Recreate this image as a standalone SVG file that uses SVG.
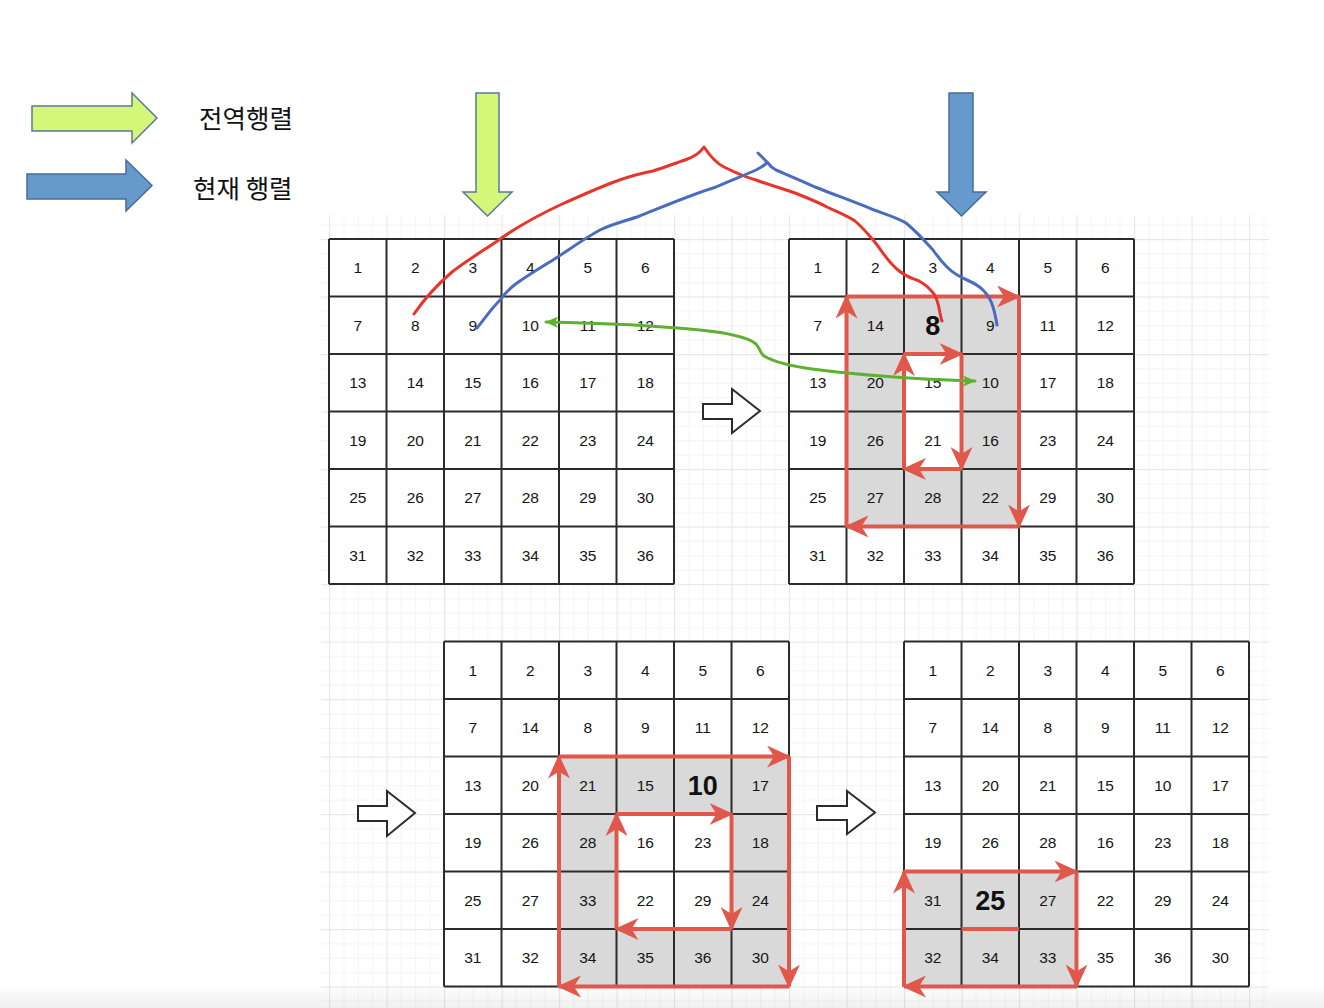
<svg xmlns="http://www.w3.org/2000/svg" xmlns:xlink="http://www.w3.org/1999/xlink" width="1324" height="1008" viewBox="0 0 1324 1008">
<style>
.n{font-family:"Liberation Sans",Arial,sans-serif;font-size:15.5px;text-anchor:middle;fill:#151515}
.b{font-family:"Liberation Sans",Arial,sans-serif;font-size:27px;font-weight:bold;text-anchor:middle;fill:#111}
.gl{fill:none;stroke:#2b2b2b;stroke-width:2}
.cell{fill:#ffffff}
.sh{fill:#d9d9d9}
.red{fill:none;stroke:#e0584c;stroke-width:4;marker-end:url(#ra)}
.hollow{fill:#ffffff;stroke:#2b2b2b;stroke-width:2;stroke-linejoin:miter}
.leg{font-family:"Noto Sans CJK KR","Noto Sans",sans-serif;font-size:25.5px;fill:#111;dominant-baseline:central}
.curve{fill:none;stroke-width:3;stroke-linecap:round;stroke-linejoin:round}
</style>
<defs>
<pattern id="bg" x="329" y="239" width="57.5" height="57.5" patternUnits="userSpaceOnUse">
<rect x="14.375" y="0" width="1" height="57.5" fill="#f3f3f3"/>
<rect x="28.75" y="0" width="1" height="57.5" fill="#f3f3f3"/>
<rect x="43.125" y="0" width="1" height="57.5" fill="#f3f3f3"/>
<rect x="0" y="14.375" width="57.5" height="1" fill="#f3f3f3"/>
<rect x="0" y="28.75" width="57.5" height="1" fill="#f3f3f3"/>
<rect x="0" y="43.125" width="57.5" height="1" fill="#f3f3f3"/>
<rect x="0" y="0" width="1.2" height="57.5" fill="#e8e8e8"/>
<rect x="0" y="0" width="57.5" height="1.2" fill="#e8e8e8"/>
</pattern>
<linearGradient id="fade" x1="0" y1="0" x2="0" y2="1">
<stop offset="0" stop-color="#000" stop-opacity="0"/>
<stop offset="1" stop-color="#000" stop-opacity="0.06"/>
</linearGradient>
<marker id="ra" markerUnits="userSpaceOnUse" markerWidth="24" markerHeight="22" viewBox="0 0 24 22" refX="22" refY="11" orient="auto">
<path d="M0,0 L24,11 L0,22 L7,11 z" fill="#e0584c"/>
</marker>
<marker id="ga" markerUnits="userSpaceOnUse" markerWidth="13" markerHeight="11" viewBox="0 0 13 11" refX="12" refY="5.5" orient="auto-start-reverse">
<path d="M0,0 L13,5.5 L0,11 L3,5.5 z" fill="#5db12f"/>
</marker>
<path id="lines" d="M0,0H345M0,57.5H345M0,115H345M0,172.5H345M0,230H345M0,287.5H345M0,345H345M0,0V345M57.5,0V345M115,0V345M172.5,0V345M230,0V345M287.5,0V345M345,0V345"/>
</defs>

<rect x="0" y="0" width="1324" height="1008" fill="#ffffff"/>
<rect x="321" y="215" width="948" height="793" fill="url(#bg)"/>
<rect x="0" y="984" width="1324" height="24" fill="url(#fade)"/>

<g id="legend-global">
<polygon points="32,106 132,106 132,93 157,118 132,143 132,131 32,131" fill="#d4f779" stroke="#58789f" stroke-width="1.5"/>
<text class="leg" x="199" y="116">전역행렬</text>
</g>
<g id="legend-current">
<polygon points="27,174 126,174 126,160 152,185.5 126,211 126,199 27,199" fill="#6699cc" stroke="#4a6c96" stroke-width="1.5"/>
<text class="leg" x="193" y="186">현재 행렬</text>
</g>
<g id="pointer-global">
<polygon points="476,93 499,93 499,192 512,192 487.5,216 463,192 476,192" fill="#d4f779" stroke="#58789f" stroke-width="1.5"/>
</g>
<g id="pointer-current">
<polygon points="949,93 973,93 973,192 986,192 961.5,216 937,192 949,192" fill="#6699cc" stroke="#4a6c96" stroke-width="1.5"/>
</g>

<g id="grid1" transform="translate(329,239)">
<rect class="cell" x="0" y="0" width="345" height="345"/>
<use xlink:href="#lines" class="gl"/>
<text class="n" x="28.75" y="34">1</text><text class="n" x="86.25" y="34">2</text><text class="n" x="143.75" y="34">3</text><text class="n" x="201.25" y="34">4</text><text class="n" x="258.75" y="34">5</text><text class="n" x="316.25" y="34">6</text>
<text class="n" x="28.75" y="91.5">7</text><text class="n" x="86.25" y="91.5">8</text><text class="n" x="143.75" y="91.5">9</text><text class="n" x="201.25" y="91.5">10</text><text class="n" x="258.75" y="91.5">11</text><text class="n" x="316.25" y="91.5">12</text>
<text class="n" x="28.75" y="149">13</text><text class="n" x="86.25" y="149">14</text><text class="n" x="143.75" y="149">15</text><text class="n" x="201.25" y="149">16</text><text class="n" x="258.75" y="149">17</text><text class="n" x="316.25" y="149">18</text>
<text class="n" x="28.75" y="206.5">19</text><text class="n" x="86.25" y="206.5">20</text><text class="n" x="143.75" y="206.5">21</text><text class="n" x="201.25" y="206.5">22</text><text class="n" x="258.75" y="206.5">23</text><text class="n" x="316.25" y="206.5">24</text>
<text class="n" x="28.75" y="264">25</text><text class="n" x="86.25" y="264">26</text><text class="n" x="143.75" y="264">27</text><text class="n" x="201.25" y="264">28</text><text class="n" x="258.75" y="264">29</text><text class="n" x="316.25" y="264">30</text>
<text class="n" x="28.75" y="321.5">31</text><text class="n" x="86.25" y="321.5">32</text><text class="n" x="143.75" y="321.5">33</text><text class="n" x="201.25" y="321.5">34</text><text class="n" x="258.75" y="321.5">35</text><text class="n" x="316.25" y="321.5">36</text>
</g>

<g id="grid2" transform="translate(789,239)">
<rect class="cell" x="0" y="0" width="345" height="345"/>
<rect class="sh" x="57.5" y="57.5" width="172.5" height="230"/>
<rect class="cell" x="115" y="115" width="57.5" height="115"/>
<use xlink:href="#lines" class="gl"/>
<text class="n" x="28.75" y="34">1</text><text class="n" x="86.25" y="34">2</text><text class="n" x="143.75" y="34">3</text><text class="n" x="201.25" y="34">4</text><text class="n" x="258.75" y="34">5</text><text class="n" x="316.25" y="34">6</text>
<text class="n" x="28.75" y="91.5">7</text><text class="n" x="86.25" y="91.5">14</text><text class="b" x="143.75" y="95.5">8</text><text class="n" x="201.25" y="91.5">9</text><text class="n" x="258.75" y="91.5">11</text><text class="n" x="316.25" y="91.5">12</text>
<text class="n" x="28.75" y="149">13</text><text class="n" x="86.25" y="149">20</text><text class="n" x="143.75" y="149">15</text><text class="n" x="201.25" y="149">10</text><text class="n" x="258.75" y="149">17</text><text class="n" x="316.25" y="149">18</text>
<text class="n" x="28.75" y="206.5">19</text><text class="n" x="86.25" y="206.5">26</text><text class="n" x="143.75" y="206.5">21</text><text class="n" x="201.25" y="206.5">16</text><text class="n" x="258.75" y="206.5">23</text><text class="n" x="316.25" y="206.5">24</text>
<text class="n" x="28.75" y="264">25</text><text class="n" x="86.25" y="264">27</text><text class="n" x="143.75" y="264">28</text><text class="n" x="201.25" y="264">22</text><text class="n" x="258.75" y="264">29</text><text class="n" x="316.25" y="264">30</text>
<text class="n" x="28.75" y="321.5">31</text><text class="n" x="86.25" y="321.5">32</text><text class="n" x="143.75" y="321.5">33</text><text class="n" x="201.25" y="321.5">34</text><text class="n" x="258.75" y="321.5">35</text><text class="n" x="316.25" y="321.5">36</text>
</g>

<g id="grid3" transform="translate(444,641.5)">
<rect class="cell" x="0" y="0" width="345" height="345"/>
<rect class="sh" x="115" y="115" width="230" height="230"/>
<rect class="cell" x="172.5" y="172.5" width="115" height="115"/>
<use xlink:href="#lines" class="gl"/>
<text class="n" x="28.75" y="34">1</text><text class="n" x="86.25" y="34">2</text><text class="n" x="143.75" y="34">3</text><text class="n" x="201.25" y="34">4</text><text class="n" x="258.75" y="34">5</text><text class="n" x="316.25" y="34">6</text>
<text class="n" x="28.75" y="91.5">7</text><text class="n" x="86.25" y="91.5">14</text><text class="n" x="143.75" y="91.5">8</text><text class="n" x="201.25" y="91.5">9</text><text class="n" x="258.75" y="91.5">11</text><text class="n" x="316.25" y="91.5">12</text>
<text class="n" x="28.75" y="149">13</text><text class="n" x="86.25" y="149">20</text><text class="n" x="143.75" y="149">21</text><text class="n" x="201.25" y="149">15</text><text class="b" x="258.75" y="153">10</text><text class="n" x="316.25" y="149">17</text>
<text class="n" x="28.75" y="206.5">19</text><text class="n" x="86.25" y="206.5">26</text><text class="n" x="143.75" y="206.5">28</text><text class="n" x="201.25" y="206.5">16</text><text class="n" x="258.75" y="206.5">23</text><text class="n" x="316.25" y="206.5">18</text>
<text class="n" x="28.75" y="264">25</text><text class="n" x="86.25" y="264">27</text><text class="n" x="143.75" y="264">33</text><text class="n" x="201.25" y="264">22</text><text class="n" x="258.75" y="264">29</text><text class="n" x="316.25" y="264">24</text>
<text class="n" x="28.75" y="321.5">31</text><text class="n" x="86.25" y="321.5">32</text><text class="n" x="143.75" y="321.5">34</text><text class="n" x="201.25" y="321.5">35</text><text class="n" x="258.75" y="321.5">36</text><text class="n" x="316.25" y="321.5">30</text>
</g>

<g id="grid4" transform="translate(904,641.5)">
<rect class="cell" x="0" y="0" width="345" height="345"/>
<rect class="sh" x="0" y="230" width="172.5" height="115"/>
<use xlink:href="#lines" class="gl"/>
<text class="n" x="28.75" y="34">1</text><text class="n" x="86.25" y="34">2</text><text class="n" x="143.75" y="34">3</text><text class="n" x="201.25" y="34">4</text><text class="n" x="258.75" y="34">5</text><text class="n" x="316.25" y="34">6</text>
<text class="n" x="28.75" y="91.5">7</text><text class="n" x="86.25" y="91.5">14</text><text class="n" x="143.75" y="91.5">8</text><text class="n" x="201.25" y="91.5">9</text><text class="n" x="258.75" y="91.5">11</text><text class="n" x="316.25" y="91.5">12</text>
<text class="n" x="28.75" y="149">13</text><text class="n" x="86.25" y="149">20</text><text class="n" x="143.75" y="149">21</text><text class="n" x="201.25" y="149">15</text><text class="n" x="258.75" y="149">10</text><text class="n" x="316.25" y="149">17</text>
<text class="n" x="28.75" y="206.5">19</text><text class="n" x="86.25" y="206.5">26</text><text class="n" x="143.75" y="206.5">28</text><text class="n" x="201.25" y="206.5">16</text><text class="n" x="258.75" y="206.5">23</text><text class="n" x="316.25" y="206.5">18</text>
<text class="n" x="28.75" y="264">31</text><text class="b" x="86.25" y="268">25</text><text class="n" x="143.75" y="264">27</text><text class="n" x="201.25" y="264">22</text><text class="n" x="258.75" y="264">29</text><text class="n" x="316.25" y="264">24</text>
<text class="n" x="28.75" y="321.5">32</text><text class="n" x="86.25" y="321.5">34</text><text class="n" x="143.75" y="321.5">33</text><text class="n" x="201.25" y="321.5">35</text><text class="n" x="258.75" y="321.5">36</text><text class="n" x="316.25" y="321.5">30</text>
</g>

<g id="step-arrow-1"><polygon class="hollow" points="703,404 732,404 732,389 760,411 732,433 732,419 703,419"/></g>
<g id="step-arrow-2"><polygon class="hollow" points="358,806 387,806 387,791 415,813 387,836 387,821 358,821"/></g>
<g id="step-arrow-3"><polygon class="hollow" points="817,806 847,806 847,791 875,812.5 847,834 847,820 817,820"/></g>

<g id="connectors">
<line class="red" x1="846.5" y1="526.5" x2="846.5" y2="296.5"/>
<line class="red" x1="846.5" y1="296.5" x2="1019" y2="296.5"/>
<line class="red" x1="1019" y1="296.5" x2="1019" y2="526.5"/>
<line class="red" x1="1019" y1="526.5" x2="846.5" y2="526.5"/>
<line class="red" x1="904" y1="469" x2="904" y2="354"/>
<line class="red" x1="904" y1="354" x2="961.5" y2="354"/>
<line class="red" x1="961.5" y1="354" x2="961.5" y2="469"/>
<line class="red" x1="961.5" y1="469" x2="904" y2="469"/>

<line class="red" x1="559" y1="986.5" x2="559" y2="756.5"/>
<line class="red" x1="559" y1="756.5" x2="789" y2="756.5"/>
<line class="red" x1="789" y1="756.5" x2="789" y2="986.5"/>
<line class="red" x1="789" y1="986.5" x2="559" y2="986.5"/>
<line class="red" x1="616.5" y1="929" x2="616.5" y2="814"/>
<line class="red" x1="616.5" y1="814" x2="731.5" y2="814"/>
<line class="red" x1="731.5" y1="814" x2="731.5" y2="929"/>
<line class="red" x1="731.5" y1="929" x2="616.5" y2="929"/>

<line class="red" x1="904" y1="986.5" x2="904" y2="871.5"/>
<line class="red" x1="904" y1="871.5" x2="1076.5" y2="871.5"/>
<line class="red" x1="1076.5" y1="871.5" x2="1076.5" y2="986.5"/>
<line class="red" x1="1076.5" y1="986.5" x2="904" y2="986.5"/>
<line x1="961.5" y1="929" x2="1019" y2="929" stroke="#e0584c" stroke-width="4"/>

<path class="curve" stroke="#e8352b" d="M414,314 C425,298 438,284 452,272 C470,258 488,248 503,237 C525,222 545,212 560,205 C580,196 598,188 614,182 C630,176 642,173 653,171 C665,167 676,163 685,160 C694,157 700,153 704,147 C708,153 714,162 724,167 C738,174 745,177 756,180 C772,186 785,189 795,193 C810,199 818,202 827,207 C840,213 848,216 855,221 C864,229 868,234 874,241 C882,251 888,262 898,270 C906,277 912,278 919,281 C928,286 931,290 934,294 C938,300 939,308 940,313 C941,317 941,319 942,321"/>
<path class="curve" stroke="#4a6cc0" d="M477,328 C485,318 492,308 500,300 C506,292 510,288 517,283 C530,274 540,268 553,260 C570,249 585,238 600,230 C612,224 625,221 637,217 C660,208 690,195 716,187 C732,180 745,175 756,170 C762,167 766,164 767,162 L758,153 M767,162 C770,166 772,168 776,170 C790,176 802,181 815,187 C835,195 855,202 874,210 C888,215 898,218 906,223 C916,231 924,240 933,250 C938,257 942,262 947,267 C954,274 960,277 967,280 C974,283 979,286 983,290 C988,295 991,300 993,307 C995,313 996,319 997,325"/>
<path class="curve" stroke="#5db12f" marker-start="url(#ga)" marker-end="url(#ga)" d="M546,322 C600,323 660,326 700,330 C730,333 748,337 756,344 C760,348 759,352 764,356 C774,362 790,366 812,369 C850,374 890,377 925,379 C945,380 960,381 975,381"/>
</g>
</svg>
